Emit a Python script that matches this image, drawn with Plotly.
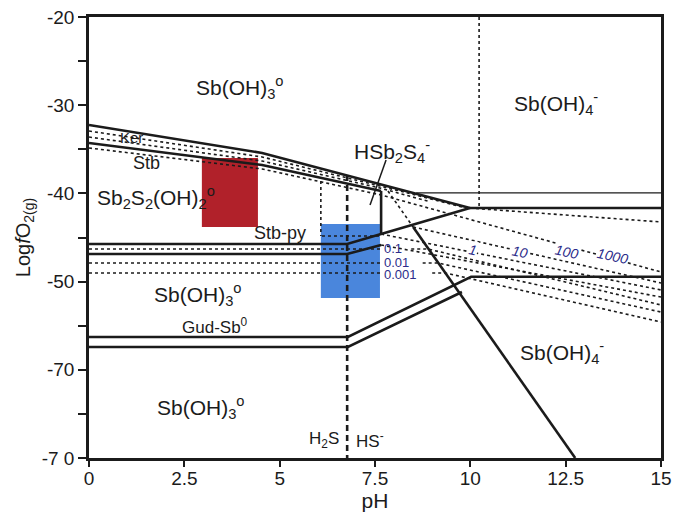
import plotly.graph_objects as go

# ---------------- data (pH , log fO2) ----------------
# solid boundaries
ker_top_ph = [0, 4.54, 9.99]
ker_top_lf = [-32.24, -35.42, -41.66]
stb_top_ph = [0, 4.54, 7.66]
stb_top_lf = [-34.29, -36.78, -39.73]
hsb_edge_ph = [7.66, 7.66]
hsb_edge_lf = [-39.73, -44.61]
stbpy_up_ph = [0, 6.77, 7.66, 9.99]
stbpy_up_lf = [-45.74, -45.74, -44.61, -41.66]
stbpy_lo_ph = [0, 6.77, 7.66]
stbpy_lo_lf = [-46.87, -46.87, -45.85]
thin_h_ph = [8.58, 15]
thin_h_lf = [-39.95, -39.95]
thick_h_ph = [9.99, 15]
thick_h_lf = [-41.66, -41.66]
gud_up_ph = [0, 6.79, 10.02, 15]
gud_up_lf = [-56.28, -56.28, -49.45, -49.45]
gud_lo_ph = [0, 6.79, 9.78]
gud_lo_lf = [-57.41, -57.41, -51.18]
steep_ph = [8.50, 12.75]
steep_lf = [-43.81, -70.0]
leader_ph = [7.79, 7.37]
leader_lf = [-36.21, -41.32]

# dotted boundaries
ker_d1_ph = [0, 4.54, 7.63, 9.99]
ker_d1_lf = [-32.93, -35.87, -39.16, -41.77]
ker_d2_ph = [0, 4.54, 7.63, 8.9]
ker_d2_lf = [-33.61, -36.33, -39.39, -40.9]
stb_d3_ph = [0, 4.54, 7.66, 15]
stb_d3_lf = [-34.85, -37.23, -40.18, -48.91]
fan1_ph = [9.99, 15]
fan1_lf = [-41.66, -43.24]
fan3_ph = [8.50, 15]
fan3_lf = [-43.81, -50.16]
fan4_ph = [7.66, 15]
fan4_lf = [-44.61, -50.95]
fan5_ph = [7.66, 15]
fan5_lf = [-45.85, -51.75]
c01_ph = [0, 7.66, None, 8.45, 8.89, 15]
c01_lf = [-46.30, -46.30, None, -46.30, -46.30, -52.65]
c001_ph = [0, 7.66, None, 8.75, 9.15, 15]
c001_lf = [-47.89, -47.89, None, -47.89, -47.89, -53.45]
c0001_ph = [0, 7.66, None, 9.0, 9.34, 15]
c0001_lf = [-49.02, -49.02, None, -49.02, -49.02, -54.58]
py_box_ph = [6.11, 7.66]
py_box_lf = [-44.83, -44.83]
v_dot1_ph = [6.08, 6.08]
v_dot1_lf = [-38.59, -44.83]
v_dot2_ph = [10.23, 10.23]
v_dot2_lf = [-20, -41.66]
steep_dot_ph = [7.84, 8.50]
steep_dot_lf = [-39.73, -43.81]
h2s_ph = [6.77, 6.77]
h2s_lf = [-37.91, -70]

# sample boxes
red_box_ph = [2.96, 4.43]
red_box_lf = [-43.8, -36.0]
blue_box_ph = [6.08, 7.63]
blue_box_lf = [-51.86, -43.47]

# region labels
reg_text = ["Sb(OH)<sub>3</sub><sup>o</sup>", "Sb(OH)<sub>4</sub><sup>-</sup>", "Ker", "Stb",
            "Sb<sub>2</sub>S<sub>2</sub>(OH)<sub>2</sub><sup>o</sup>", "HSb<sub>2</sub>S<sub>4</sub><sup>-</sup>",
            "Stb-py", "Sb(OH)<sub>3</sub><sup>o</sup>", "Gud-Sb<sup>0</sup>", "Sb(OH)<sub>4</sub><sup>-</sup>",
            "Sb(OH)<sub>3</sub><sup>o</sup>", "H<sub>2</sub>S", "HS<sup>-</sup>"]
reg_ph = [3.96, 12.25, 1.12, 1.52, 1.75, 7.95, 5.0, 2.85, 3.3, 12.4, 2.95, 6.6, 6.95]
reg_lf = [-28.0, -29.8, -33.7, -36.55, -40.5, -35.3, -44.5, -51.5, -55.0, -58.0, -64.3, -68.0, -68.0]
reg_size = [21, 21, 15, 18, 21, 21, 18, 21, 17, 21, 21, 17, 17]
reg_anchor = ["center"] * 11 + ["right", "left"]

# concentration labels
conc_text = ["0.1", "0.01", "0.001", "1", "10", "100", "1000"]
conc_ph = [7.7, 7.7, 7.7, 10.07, 11.30, 12.54, 13.72]
conc_lf = [-46.25, -47.8, -49.15, -46.42, -46.64, -46.64, -47.10]
conc_anchor = ["left", "left", "left", "center", "center", "center", "center"]
conc_angle = [0, 0, 0, 12, 12, 12, 12]
conc_size = [13, 13, 13, 14, 14, 14, 14]

x_ticks = [0, 2.5, 5, 7.5, 10, 12.5, 15]
x_ticktext = ["0", "2.5", "5", "7.5", "10", "12.5", "15"]
y_ticks = [-20, -30, -40, -50, -60, -70]
y_ticktext = ["-20", "-30", "-40", "-50", "-70", "-7 0"]

FONT = "Liberation Sans, Arial, sans-serif"
INK = "#1b1b1b"

fig = go.Figure()

def add_line(xs, ys, width=2.6, dash="solid", color=INK):
    fig.add_trace(go.Scatter(x=xs, y=ys, mode="lines", hoverinfo="skip", showlegend=False,
                             connectgaps=False, line=dict(color=color, width=width, dash=dash)))

DOT = "3px,3px"
for xs, ys in [(ker_d1_ph, ker_d1_lf), (ker_d2_ph, ker_d2_lf), (stb_d3_ph, stb_d3_lf),
               (fan1_ph, fan1_lf), (fan3_ph, fan3_lf), (fan4_ph, fan4_lf), (fan5_ph, fan5_lf),
               (c01_ph, c01_lf), (c001_ph, c001_lf), (c0001_ph, c0001_lf), (py_box_ph, py_box_lf),
               (v_dot1_ph, v_dot1_lf), (v_dot2_ph, v_dot2_lf), (steep_dot_ph, steep_dot_lf)]:
    add_line(xs, ys, width=1.6, dash=DOT)

add_line(h2s_ph, h2s_lf, width=2.6, dash="6px,4px")

for xs, ys in [(ker_top_ph, ker_top_lf), (stb_top_ph, stb_top_lf), (hsb_edge_ph, hsb_edge_lf),
               (stbpy_up_ph, stbpy_up_lf), (stbpy_lo_ph, stbpy_lo_lf), (thick_h_ph, thick_h_lf),
               (gud_up_ph, gud_up_lf), (gud_lo_ph, gud_lo_lf), (steep_ph, steep_lf)]:
    add_line(xs, ys, width=2.6)
add_line(thin_h_ph, thin_h_lf, width=1.3)
add_line(leader_ph, leader_lf, width=1.5)

shapes = [
    dict(type="rect", xref="x", yref="y", x0=red_box_ph[0], x1=red_box_ph[1],
         y0=red_box_lf[0], y1=red_box_lf[1], fillcolor="#b1212a", line=dict(width=0), layer="below"),
    dict(type="rect", xref="x", yref="y", x0=blue_box_ph[0], x1=blue_box_ph[1],
         y0=blue_box_lf[0], y1=blue_box_lf[1], fillcolor="#4a86dc", line=dict(width=0), layer="below"),
]

annotations = []
for t, x, y, s, a in zip(reg_text, reg_ph, reg_lf, reg_size, reg_anchor):
    annotations.append(dict(text=t, x=x, y=y, xref="x", yref="y", showarrow=False,
                            xanchor=a, yanchor="middle", font=dict(family=FONT, size=s, color=INK)))
for t, x, y, a, ang, s in zip(conc_text, conc_ph, conc_lf, conc_anchor, conc_angle, conc_size):
    txt = t if ang == 0 else "<i>" + t + "</i>"
    annotations.append(dict(text=txt, x=x, y=y, xref="x", yref="y", showarrow=False,
                            xanchor=a, yanchor="middle", textangle=ang,
                            bgcolor=("white" if ang else None), borderpad=0,
                            font=dict(family=FONT, size=s, color="#2c2c8a")))

fig.update_layout(
    width=677, height=517,
    margin=dict(l=89, r=16, t=17, b=59),
    paper_bgcolor="white", plot_bgcolor="white",
    shapes=shapes, annotations=annotations,
    font=dict(family=FONT, color=INK),
    xaxis=dict(range=[0, 15], tickvals=x_ticks, ticktext=x_ticktext, ticks="outside", ticklen=6,
               tickwidth=1.5, tickcolor=INK, showgrid=False, zeroline=False, showline=True,
               linewidth=2.6, linecolor=INK, mirror=True, tickfont=dict(size=19, color=INK),
               automargin=False, ticklabeloverflow="allow", ticklabelstandoff=-5,
               title=dict(text="pH", font=dict(size=21, color=INK), standoff=4)),
    yaxis=dict(range=[-70, -20], tickvals=y_ticks, ticktext=y_ticktext, ticks="outside", ticklen=8,
               tickwidth=1.5, tickcolor=INK, showgrid=False, zeroline=False, showline=True,
               linewidth=2.6, linecolor=INK, mirror=True, tickfont=dict(size=19, color=INK),
               automargin=False, ticklabeloverflow="allow",
               minor=dict(tickvals=[-25, -35, -45, -55, -65], ticks="outside", ticklen=8,
                          tickwidth=1.5, tickcolor=INK),
               title=dict(text="Log<i>f</i>O<sub>2(g)</sub>", font=dict(size=20, color=INK), standoff=6)),
)

# remove the page's default body margin so the 677x517 figure fills the window exactly
fig.write_html("out.html", config={"displayModeBar": False},
               post_script="document.body.style.margin='0';document.body.style.overflow='hidden';")
